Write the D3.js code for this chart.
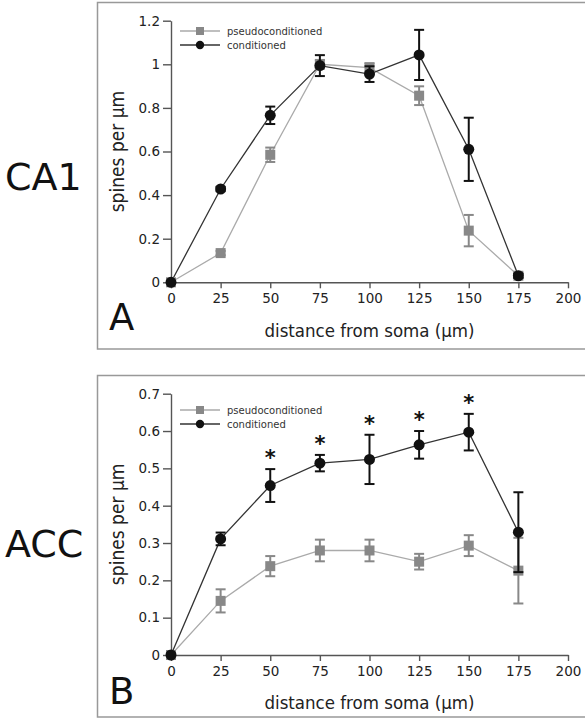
<!DOCTYPE html>
<html>
<head>
<meta charset="utf-8">
<script src="https://cdn.jsdelivr.net/npm/d3@7"></script>
<style>
  body { margin: 0; background: #fff; }
  svg { display: block; font-family: "DejaVu Sans", sans-serif; }
</style>
</head>
<body>
<svg id="chart" width="585" height="720"></svg>
<script>
// ---- data ----
const distances = [0, 25, 50, 75, 100, 125, 150, 175];
const xTicks = [0, 25, 50, 75, 100, 125, 150, 175, 200];

// Panel A (CA1)
const caPseudoMean = [0, 0.134, 0.585, 1.0, 0.985, 0.856, 0.237, 0.03];
const caPseudoErr  = [0, 0.01, 0.033, 0.02, 0.02, 0.043, 0.072, 0.01];
const caCondMean   = [0, 0.428, 0.766, 0.994, 0.955, 1.043, 0.61, 0.03];
const caCondErr    = [0, 0.01, 0.04, 0.048, 0.036, 0.115, 0.145, 0.01];
const caYTicks     = [0, 0.2, 0.4, 0.6, 0.8, 1, 1.2];

// Panel B (ACC)
const accPseudoMean = [0, 0.145, 0.238, 0.28, 0.28, 0.25, 0.293, 0.226];
const accPseudoErr  = [0, 0.031, 0.027, 0.029, 0.029, 0.021, 0.028, 0.088];
const accCondMean   = [0, 0.311, 0.454, 0.514, 0.524, 0.563, 0.597, 0.329];
const accCondErr    = [0, 0.017, 0.044, 0.022, 0.066, 0.037, 0.049, 0.107];
const accSignif     = [false, false, true, true, true, true, true, false];
const accYTicks     = [0, 0.1, 0.2, 0.3, 0.4, 0.5, 0.6, 0.7];

const seriesNames = ["pseudoconditioned", "conditioned"];

const svg = d3.select("#chart");

const COND = "#111";
const COND_LINE = "#333";
const PSEUDO = "#888";
const PSEUDO_LINE = "#aaa";
const AXIS = "#555";
const COND_FONT = "'DejaVu Sans Condensed','DejaVu Sans',sans-serif";

function panel(opts) {
  const g = svg.append("g");
  // frame
  g.append("rect")
    .attr("x", 97.5).attr("y", opts.frameTop)
    .attr("width", 600).attr("height", opts.frameBottom - opts.frameTop)
    .attr("fill", "none").attr("stroke", "#999").attr("stroke-width", 1.5);

  const x = d3.scaleLinear().domain([0, 200]).range([171, 568]);
  const y = d3.scaleLinear().domain([0, opts.yMax]).range([opts.y0, opts.yTop]);

  const fmt = d => (d === 0 || d === 1) ? String(d) : d3.format(".1f")(d);

  // axes
  const yAxis = d3.axisLeft(y).tickValues(opts.yTicks).tickFormat(fmt).tickSize(8).tickSizeOuter(0).tickPadding(3);
  const xAxis = d3.axisBottom(x).tickValues(xTicks).tickSize(6).tickSizeOuter(0).tickPadding(5);

  const ya = g.append("g").attr("transform", `translate(${x(0)},0)`).call(yAxis);
  const xa = g.append("g").attr("transform", `translate(0,${y(0)})`).call(xAxis);
  [ya, xa].forEach(a => {
    a.select(".domain").attr("stroke", AXIS).attr("stroke-width", 1.4);
    a.selectAll(".tick line").attr("stroke", AXIS).attr("stroke-width", 1.4);
    a.selectAll(".tick text").attr("fill", "#222").style("font-size", "13.5px")
      .style("font-family", "'DejaVu Sans',sans-serif");
  });

  // axis titles
  g.append("text")
    .attr("transform", `translate(124,${(opts.y0 + opts.yTop) / 2}) rotate(-90)`)
    .attr("text-anchor", "middle").attr("fill", "#222").style("font-size", "19px")
    .style("font-family", COND_FONT)
    .text("spines per \u00b5m");
  g.append("text")
    .attr("x", (x(0) + x(200)) / 2).attr("y", opts.xTitleY)
    .attr("text-anchor", "middle").attr("fill", "#222").style("font-size", "18.5px")
    .style("font-family", COND_FONT)
    .text("distance from soma (\u00b5m)");

  // panel letter
  g.append("text").attr("x", 109).attr("y", opts.letterY)
    .attr("fill", "#111").style("font-size", "37px").text(opts.letter);

  // region label
  g.append("text").attr("x", 5).attr("y", opts.regionY)
    .attr("fill", "#111").style("font-size", "38px").text(opts.region);

  const line = d3.line().x((d, i) => x(distances[i])).y(d => y(d));

  // pseudo series
  g.append("path").datum(opts.pMean).attr("d", line)
    .attr("fill", "none").attr("stroke", PSEUDO_LINE).attr("stroke-width", 1.3);
  // cond series line
  g.append("path").datum(opts.cMean).attr("d", line)
    .attr("fill", "none").attr("stroke", COND_LINE).attr("stroke-width", 1.3);

  function errorBars(mean, err, color, width) {
    const eg = g.append("g").attr("stroke", color).attr("stroke-width", width);
    mean.forEach((m, i) => {
      if (err[i] <= 0) return;
      const cx = x(distances[i]);
      eg.append("line").attr("x1", cx).attr("x2", cx).attr("y1", y(m - err[i])).attr("y2", y(m + err[i]));
      [m - err[i], m + err[i]].forEach(v => {
        eg.append("line").attr("x1", cx - 5).attr("x2", cx + 5).attr("y1", y(v)).attr("y2", y(v));
      });
    });
  }

  errorBars(opts.pMean, opts.pErr, PSEUDO, 2);
  g.append("g").selectAll("rect").data(opts.pMean).join("rect")
    .attr("x", (d, i) => x(distances[i]) - 5).attr("y", d => y(d) - 5)
    .attr("width", 10).attr("height", 10).attr("fill", PSEUDO);

  errorBars(opts.cMean, opts.cErr, COND, 2);
  g.append("g").selectAll("circle").data(opts.cMean).join("circle")
    .attr("cx", (d, i) => x(distances[i])).attr("cy", d => y(d))
    .attr("r", 5.5).attr("fill", COND);

  // significance
  if (opts.signif) {
    const marks = distances
      .map((dist, i) => ({ dist, top: opts.cMean[i] + opts.cErr[i], sig: opts.signif[i] }))
      .filter(d => d.sig);
    g.append("g").selectAll("text").data(marks).join("text")
      .attr("x", d => x(d.dist))
      .attr("y", d => y(d.top) - 4)
      .attr("text-anchor", "middle").attr("fill", "#111")
      .style("font-size", "21px").style("font-weight", "bold")
      .text("*");
  }

  // legend
  const lg = g.append("g");
  const items = [
    { name: seriesNames[0], color: PSEUDO, lineColor: PSEUDO_LINE, shape: "square" },
    { name: seriesNames[1], color: COND, lineColor: COND_LINE, shape: "circle" }
  ];
  items.forEach((it, k) => {
    const ly = opts.legendY + k * 14;
    lg.append("line").attr("x1", 180).attr("x2", 220).attr("y1", ly).attr("y2", ly)
      .attr("stroke", it.lineColor).attr("stroke-width", 1.3);
    if (it.shape === "square") {
      lg.append("rect").attr("x", 196).attr("y", ly - 4).attr("width", 8).attr("height", 8).attr("fill", it.color);
    } else {
      lg.append("circle").attr("cx", 200).attr("cy", ly).attr("r", 4.2).attr("fill", it.color);
    }
    lg.append("text").attr("x", 227).attr("y", ly + 3.5)
      .attr("fill", "#333").style("font-size", "10px").text(it.name);
  });
}

panel({
  frameTop: 2.5, frameBottom: 349,
  yMax: 1.2, y0: 282.3, yTop: 20.7, yTicks: caYTicks,
  xTitleY: 337, letter: "A", letterY: 330, region: "CA1", regionY: 190,
  pMean: caPseudoMean, pErr: caPseudoErr, cMean: caCondMean, cErr: caCondErr,
  signif: null, legendY: 31
});

panel({
  frameTop: 375.5, frameBottom: 717,
  yMax: 0.7, y0: 655, yTop: 393.7, yTicks: accYTicks,
  xTitleY: 709, letter: "B", letterY: 704, region: "ACC", regionY: 557,
  pMean: accPseudoMean, pErr: accPseudoErr, cMean: accCondMean, cErr: accCondErr,
  signif: accSignif, legendY: 410
});
</script>
</body>
</html>
